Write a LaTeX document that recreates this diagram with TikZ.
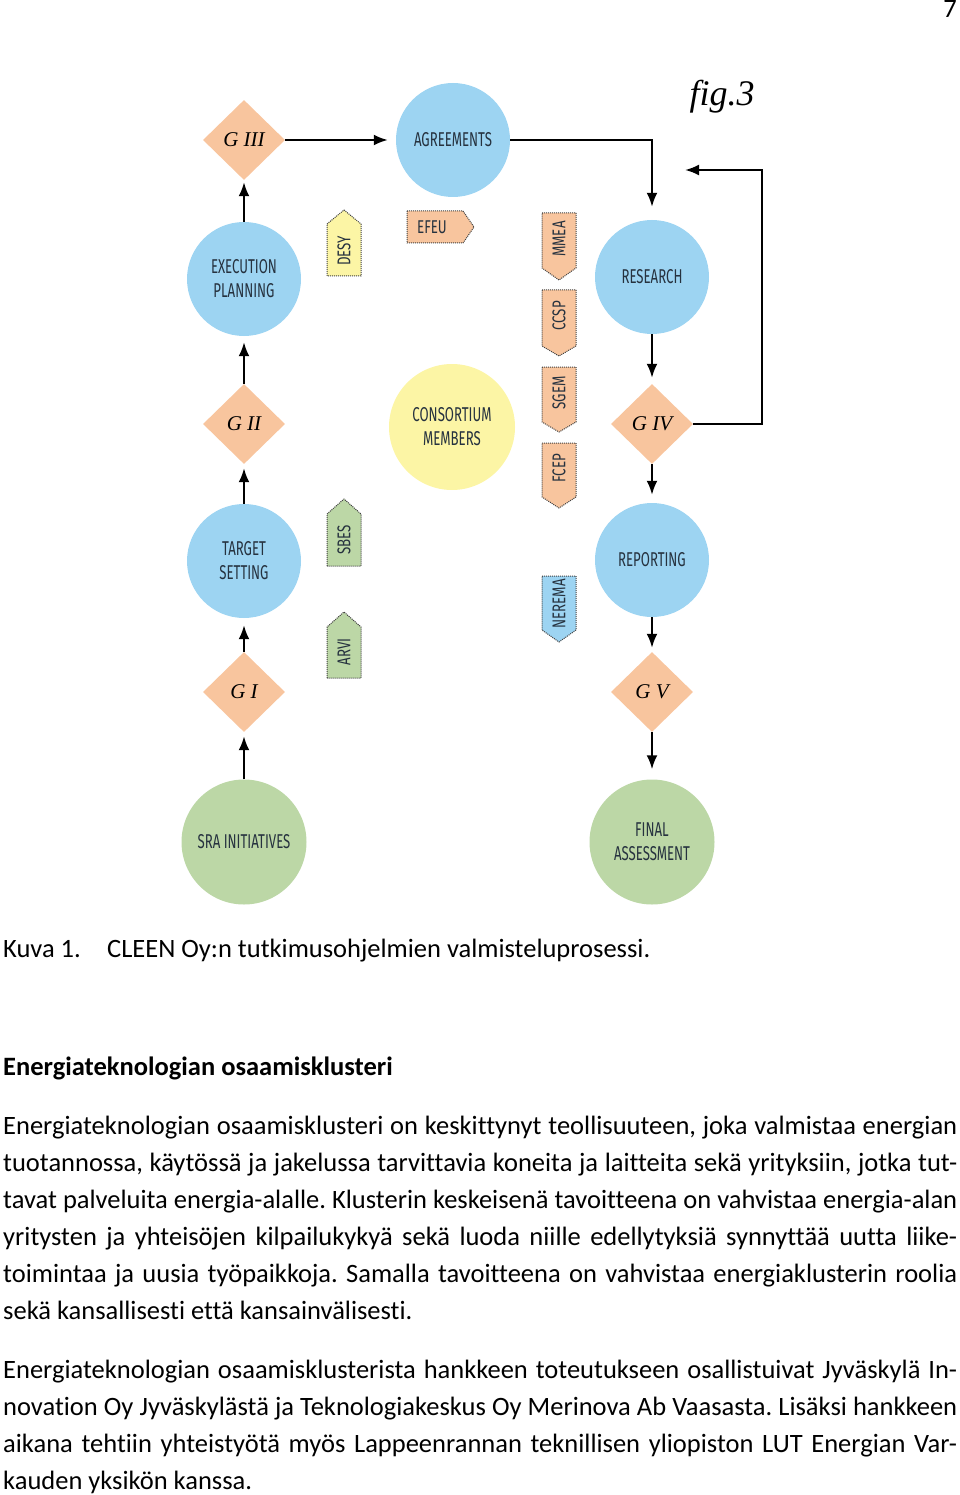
\documentclass[tikz,border=0pt]{standalone}
\usepackage{fontspec}
\setmainfont{Carlito}[Ligatures=NoCommon]
\newfontfamily\figfont{Liberation Serif}
\newfontfamily\cfont[FakeStretch=0.66]{Fira Sans}
\newfontfamily\tfont[FakeStretch=0.72]{Fira Sans}
\usetikzlibrary{shapes.geometric,arrows.meta}
\frenchspacing

\definecolor{skyblu}{HTML}{9DD4F2}
\definecolor{peach}{HTML}{F8C59E}
\definecolor{lemon}{HTML}{FCF5A5}
\definecolor{sage}{HTML}{BCD7A6}
\definecolor{txtc}{HTML}{26323F}

\tikzset{
  circ/.style={circle,minimum size=114pt,inner sep=0,align=center,text=txtc,
    font=\cfont\fontsize{20}{24}\selectfont},
  gate/.style={diamond,fill=peach,minimum width=82pt,minimum height=80pt,inner sep=0,
    font=\figfont\itshape\fontsize{21}{21}\selectfont},
  arr/.style={line width=2.2pt,-{Latex[length=14pt,width=11pt]}},
  tag/.style={densely dotted,line width=1pt,draw=black!75},
  tagtxt/.style={rotate=90,inner sep=0,text=txtc,font=\tfont\fontsize{18.5}{18.5}\selectfont},
  body/.style={anchor=base west,inner sep=0,font=\fontsize{26.5}{37}\selectfont}
}

\begin{document}
\begin{tikzpicture}[x=1pt,y=-1pt]
\useasboundingbox (0,0) rectangle (960,1495);
\node[anchor=base east,inner sep=0,font=\fontsize{26.5}{30}\selectfont] (pagenr) at (957,18) {7};
\node[font=\figfont\itshape\fontsize{36}{36}\selectfont] (figlbl) at (722,97) {fig.3};
%circles
\node[circ,fill=skyblu] (agr) at (453,140) {AGREEMENTS};
\node[circ,fill=skyblu] (exe) at (244,279) {EXECUTION\\PLANNING};
\node[circ,fill=skyblu] (tgt) at (244,561) {TARGET\\SETTING};
\node[circ,fill=sage,minimum size=125pt] (sra) at (244,842) {SRA INITIATIVES};
\node[circ,fill=lemon,minimum size=126pt] (cons) at (452,427) {CONSORTIUM\\MEMBERS};
\node[circ,fill=skyblu] (res) at (652,277) {RESEARCH};
\node[circ,fill=skyblu] (rep) at (652,560) {REPORTING};
\node[circ,fill=sage,minimum size=125pt] (fin) at (652,842) {FINAL\\ASSESSMENT};
%gates
\node[gate] (giii) at (244,140) {G III};
\node[gate] (gii) at (244,424) {G II};
\node[gate] (gi) at (244,692) {G I};
\node[gate] (giv) at (652,424) {G IV};
\node[gate] (gv) at (652,692) {G V};
%arrows
\draw[arr,shorten >=4pt] (sra) -- (gi);
\draw[arr,shorten >=7pt] (gi) -- (tgt);
\draw[arr,shorten >=4pt] (tgt) -- (gii);
\draw[arr,shorten >=6pt] (gii) -- (exe);
\draw[arr,shorten >=2pt] (exe) -- (giii);
\draw[arr,shorten >=8pt] (giii) -- (agr);
\draw[arr,shorten >=13pt] (agr.east) -| (res.north);
\draw[arr,shorten >=6pt] (res) -- (giv);
\draw[arr,shorten >=8pt] (giv) -- (rep);
\draw[arr,shorten >=4pt] (rep) -- (gv);
\draw[arr,shorten >=10pt] (gv) -- (fin);
\coordinate (fbtop) at (762,170);
\coordinate (fbend) at (685,170);
\draw[arr] (giv.east) -| (fbtop) -- (fbend);
%tags
\draw[tag,fill=lemon] (327,276) -- (327,224) -- (344,210) -- (361,224) -- (361,276) -- cycle;
\node[tagtxt] (desy) at (344,251) {DESY};
\draw[tag,fill=peach] (407,211) -- (463,211) -- (474,227) -- (463,243) -- (407,243) -- cycle;
\node[tagtxt,rotate=-90] (efeu) at (432,227) {EFEU};
\draw[tag,fill=peach] (542,213) -- (576,213) -- (576,268) -- (559,280) -- (542,268) -- cycle;
\node[tagtxt] (mmea) at (559,239) {MMEA};
\draw[tag,fill=peach] (542,290) -- (576,290) -- (576,346) -- (559,356) -- (542,346) -- cycle;
\node[tagtxt] (ccsp) at (559,316) {CCSP};
\draw[tag,fill=peach] (542,367) -- (576,367) -- (576,422) -- (559,432) -- (542,422) -- cycle;
\node[tagtxt] (sgem) at (559,393) {SGEM};
\draw[tag,fill=peach] (542,443) -- (576,443) -- (576,497) -- (559,508) -- (542,497) -- cycle;
\node[tagtxt] (fcep) at (559,468) {FCEP};
\draw[tag,fill=sage] (327,566) -- (327,514) -- (344,499) -- (361,514) -- (361,566) -- cycle;
\node[tagtxt] (sbes) at (344,540) {SBES};
\draw[tag,fill=sage] (327,678) -- (327,627) -- (344,612) -- (361,627) -- (361,678) -- cycle;
\node[tagtxt] (arvi) at (344,652) {ARVI};
\draw[tag,fill=skyblu] (542,576) -- (576,576) -- (576,630) -- (559,642) -- (542,630) -- cycle;
\node[tagtxt] (nerema) at (559,604) {NEREMA};
%text
\node[body] (kuva) at (3,957) {Kuva 1.};
\node[body] (capt) at (107,957) {CLEEN Oy:n tutkimusohjelmien valmisteluprosessi.};
\node[body,font=\bfseries\fontsize{26.5}{37}\selectfont] (head) at (3,1075) {Energiateknologian osaamisklusteri};
\node[body] (pa1) at (3,1134) {\hbox to 954pt{Energiateknologian osaamisklusteri on keskittynyt teollisuuteen, joka valmistaa energian}};
\node[body] (pa2) at (3,1171) {\hbox to 954pt{tuotannossa, käytössä ja jakelussa tarvittavia koneita ja laitteita sekä yrityksiin, jotka tut-}};
\node[body] (pa3) at (3,1208) {\hbox to 954pt{tavat palveluita energia-alalle. Klusterin keskeisenä tavoitteena on vahvistaa energia-alan}};
\node[body] (pa4) at (3,1245) {\hbox to 954pt{yritysten ja yhteisöjen kilpailukykyä sekä luoda niille edellytyksiä synnyttää uutta liike-}};
\node[body] (pa5) at (3,1282) {\hbox to 954pt{toimintaa ja uusia työpaikkoja. Samalla tavoitteena on vahvistaa energiaklusterin roolia}};
\node[body] (pa6) at (3,1319) {sekä kansallisesti että kansainvälisesti.};
\node[body] (pb1) at (3,1378) {\hbox to 954pt{Energiateknologian osaamisklusterista hankkeen toteutukseen osallistuivat Jyväskylä In-}};
\node[body] (pb2) at (3,1415) {\hbox to 954pt{novation Oy Jyväskylästä ja Teknologiakeskus Oy Merinova Ab Vaasasta. Lisäksi hankkeen}};
\node[body] (pb3) at (3,1452) {\hbox to 954pt{aikana tehtiin yhteistyötä myös Lappeenrannan teknillisen yliopiston LUT Energian Var-}};
\node[body] (pb4) at (3,1489) {kauden yksikön kanssa.};
\end{tikzpicture}
\end{document}
